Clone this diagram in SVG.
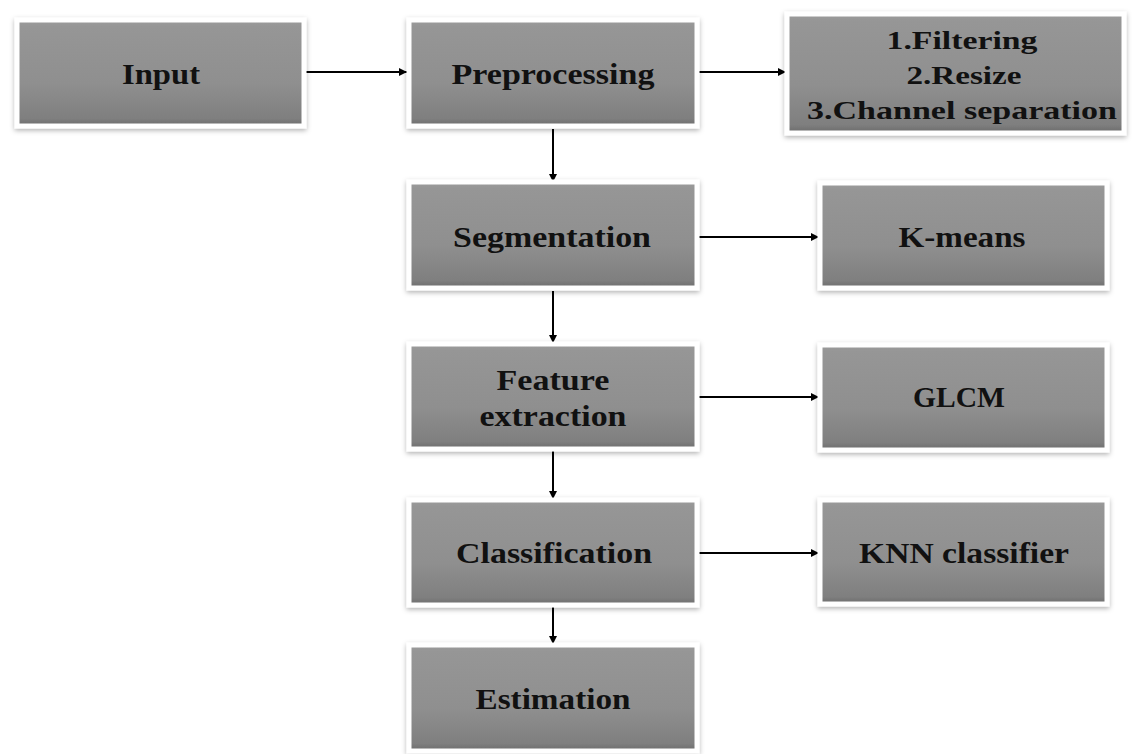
<svg xmlns="http://www.w3.org/2000/svg" width="1133" height="754" viewBox="0 0 1133 754">
<defs>
<linearGradient id="g" x1="0" y1="0" x2="0" y2="1">
<stop offset="0" stop-color="#9c9c9c"/>
<stop offset="0.06" stop-color="#969696"/>
<stop offset="0.6" stop-color="#8f8f8f"/>
<stop offset="0.93" stop-color="#7f7f7f"/>
<stop offset="1" stop-color="#6a6a6a"/>
</linearGradient>
<filter id="sh" x="-10%" y="-20%" width="120%" height="140%">
<feDropShadow dx="0" dy="2" stdDeviation="2.5" flood-color="#000" flood-opacity="0.3"/>
</filter>
<marker id="ah" viewBox="0 0 10 10" refX="10" refY="5" markerWidth="8" markerHeight="8" markerUnits="userSpaceOnUse" orient="auto">
<path d="M0,0 L10,5 L0,10 z" fill="#000"/>
</marker>
</defs>
<style>
.box{fill:url(#g);stroke:#fff;stroke-width:5;filter:url(#sh)}
.t{font-family:"Liberation Serif","Times New Roman",serif;font-weight:bold;font-size:29px;fill:#111;text-anchor:middle}
.s{font-size:26px}
.c{stroke:#000;stroke-width:2;fill:none;marker-end:url(#ah)}
</style>
<rect width="1133" height="754" fill="#fff"/>
<g id="connectors">
<line class="c" x1="306" y1="72" x2="407" y2="72"/>
<line class="c" x1="699" y1="72" x2="786" y2="72"/>
<line class="c" x1="553" y1="129" x2="553" y2="182"/>
<line class="c" x1="699" y1="237" x2="819" y2="237"/>
<line class="c" x1="553" y1="291" x2="553" y2="343"/>
<line class="c" x1="699" y1="397" x2="819" y2="397"/>
<line class="c" x1="553" y1="451" x2="553" y2="499"/>
<line class="c" x1="699" y1="553" x2="819" y2="553"/>
<line class="c" x1="553" y1="607" x2="553" y2="644"/>
</g>
<g id="input"><rect class="box" x="17" y="20" width="287" height="106"/><text class="t" x="161" y="84" textLength="78" lengthAdjust="spacingAndGlyphs">Input</text></g>
<g id="preprocessing"><rect class="box" x="409" y="20" width="288" height="106"/><text class="t" x="553" y="84" textLength="203" lengthAdjust="spacingAndGlyphs">Preprocessing</text></g>
<g id="steps"><rect class="box" x="787" y="14" width="337" height="119"/>
<text class="t s" x="962" y="49" textLength="151" lengthAdjust="spacingAndGlyphs">1.Filtering</text>
<text class="t s" x="964" y="84" textLength="115" lengthAdjust="spacingAndGlyphs">2.Resize</text>
<text class="t s" x="962" y="119" textLength="310" lengthAdjust="spacingAndGlyphs">3.Channel separation</text></g>
<g id="segmentation"><rect class="box" x="409" y="182" width="288" height="106"/><text class="t" x="552" y="247" textLength="198" lengthAdjust="spacingAndGlyphs">Segmentation</text></g>
<g id="kmeans"><rect class="box" x="820" y="183" width="287" height="105"/><text class="t" x="962" y="247" textLength="127" lengthAdjust="spacingAndGlyphs">K-means</text></g>
<g id="feature"><rect class="box" x="409" y="344" width="288" height="105"/>
<text class="t" x="553" y="390" textLength="113" lengthAdjust="spacingAndGlyphs">Feature</text>
<text class="t" x="553" y="426" textLength="147" lengthAdjust="spacingAndGlyphs">extraction</text></g>
<g id="glcm"><rect class="box" x="820" y="345" width="287" height="105"/><text class="t" x="959" y="407" textLength="92" lengthAdjust="spacingAndGlyphs">GLCM</text></g>
<g id="classification"><rect class="box" x="409" y="500" width="288" height="105"/><text class="t" x="554" y="563" textLength="196" lengthAdjust="spacingAndGlyphs">Classification</text></g>
<g id="knn"><rect class="box" x="820" y="500" width="287" height="104"/><text class="t" x="964" y="563" textLength="210" lengthAdjust="spacingAndGlyphs">KNN classifier</text></g>
<g id="estimation"><rect class="box" x="409" y="645" width="288" height="106"/><text class="t" x="553" y="709" textLength="155" lengthAdjust="spacingAndGlyphs">Estimation</text></g>
</svg>
